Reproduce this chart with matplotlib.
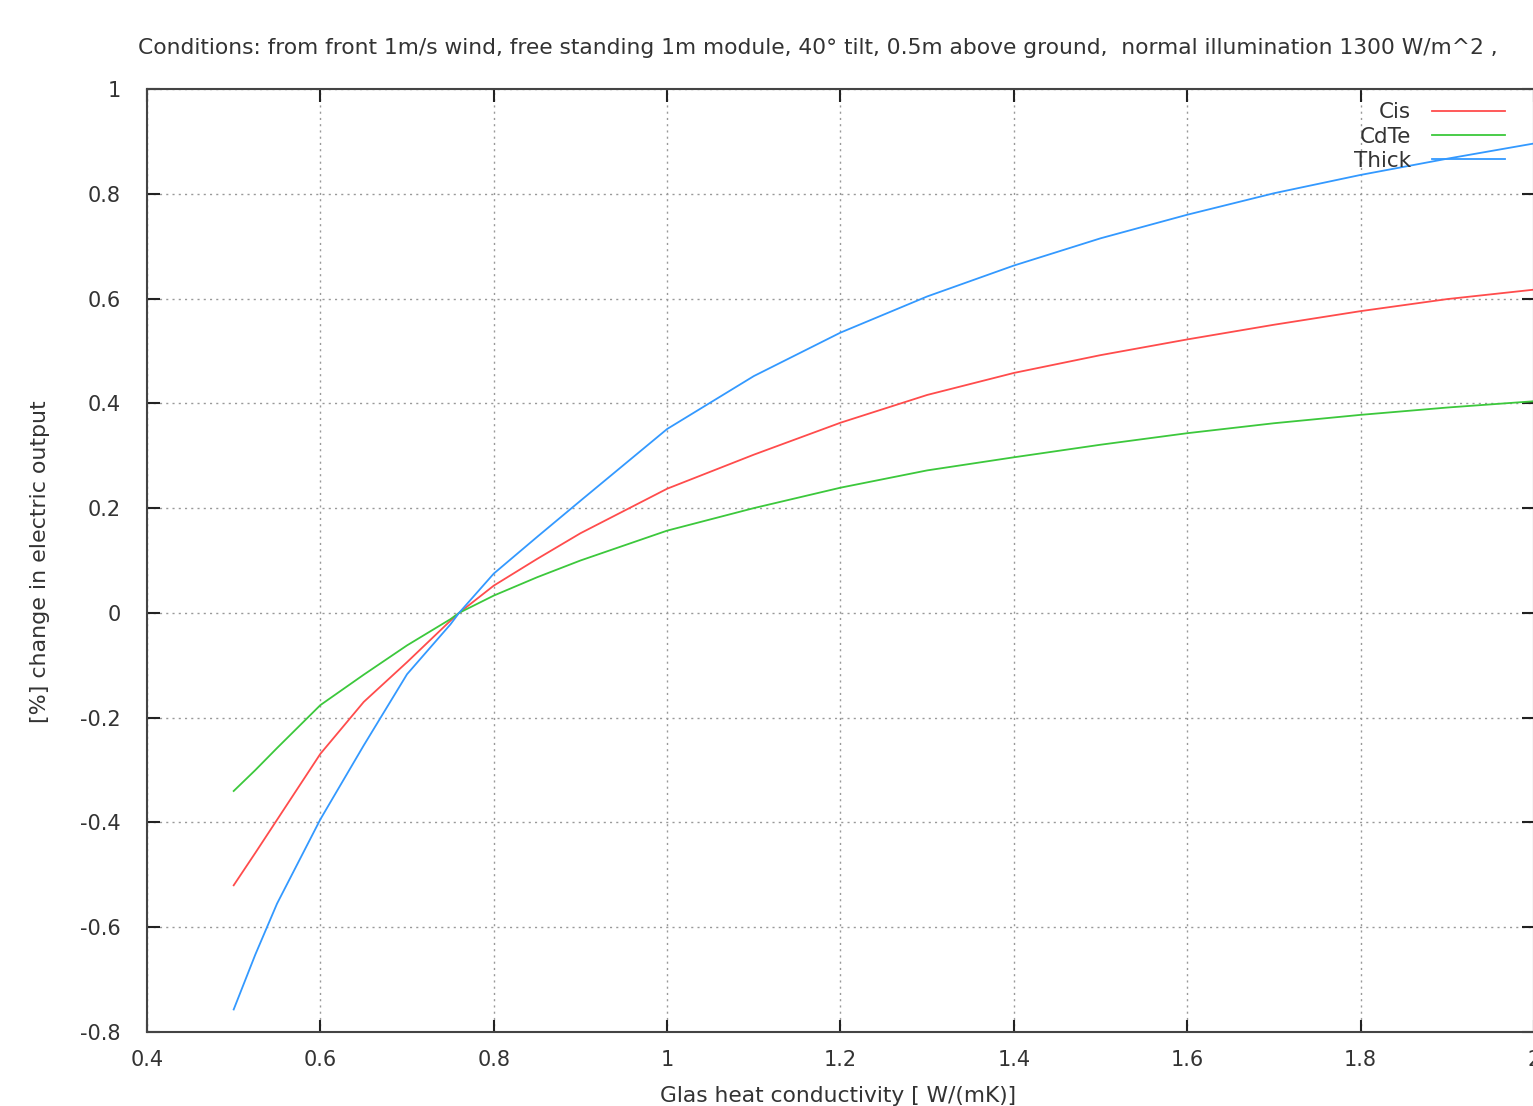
import numpy as np
import matplotlib
matplotlib.use("Agg")
import matplotlib.pyplot as plt

# glass heat conductivity W/(mK)
k = [0.5, 0.525, 0.55, 0.6, 0.65, 0.7, 0.75, 0.76, 0.8, 0.85, 0.9, 1.0, 1.1, 1.2, 1.3, 1.4, 1.5,
     1.6, 1.7, 1.8, 1.9, 2.0]

cis = [-0.52, -0.458, -0.395, -0.269, -0.17, -0.094, -0.015, 0.0, 0.052, 0.103, 0.152, 0.237,
       0.302, 0.363, 0.416, 0.458, 0.492, 0.522, 0.55, 0.576, 0.599, 0.617]
cdte = [-0.34, -0.3, -0.258, -0.176, -0.118, -0.062, -0.012, 0.0, 0.033, 0.068, 0.1, 0.157,
        0.2, 0.239, 0.272, 0.297, 0.321, 0.343, 0.362, 0.378, 0.392, 0.404]
thick = [-0.757, -0.652, -0.555, -0.394, -0.253, -0.117, -0.022, 0.0, 0.075, 0.145, 0.214, 0.351,
         0.452, 0.535, 0.604, 0.663, 0.715, 0.76, 0.801, 0.836, 0.867, 0.896]

labels = ["Cis", "CdTe", "Thick"]
title = ("Conditions: from front 1m/s wind, free standing 1m module, 40\u00b0 tilt, 0.5m above ground,  "
         "normal illumination 1300 W/m^2 ,")

txt = "#333333"
plt.rcParams["font.family"] = "DejaVu Sans"
fig = plt.figure(figsize=(15.33, 11.06), dpi=100)
ax = fig.add_axes([147/1533, 1 - 1032/1106, 1387/1533, 943/1106])

ax.plot(k, cis, color="#ff4c4c", lw=1.3, label=labels[0])
ax.plot(k, cdte, color="#3cc83c", lw=1.3, label=labels[1])
ax.plot(k, thick, color="#3399ff", lw=1.3, label=labels[2])

ax.set_xlim(0.4, 2.0)
ax.set_ylim(-0.8, 1.0)
ax.set_xticks(np.arange(0.4, 2.01, 0.2))
ax.set_yticks(np.arange(-0.8, 1.01, 0.2))
ax.set_xticklabels(["0.4", "0.6", "0.8", "1", "1.2", "1.4", "1.6", "1.8", "2"])
ax.set_yticklabels(["-0.8", "-0.6", "-0.4", "-0.2", "0", "0.2", "0.4", "0.6", "0.8", "1"])
ax.grid(True, color="#999999", ls=(0, (1.5, 3)), lw=1)
ax.tick_params(direction="in", length=9, width=1.5, top=True, right=True,
               labelsize=15, colors="#222222", labelcolor=txt)
ax.tick_params(axis="y", pad=19)
ax.tick_params(axis="x", pad=13)
for s in ax.spines.values():
    s.set_color("#444444")
    s.set_linewidth(1.5)

ax.legend(loc="upper right", bbox_to_anchor=(0.979, 0.986), frameon=False, markerfirst=False,
          fontsize=15.5, handlelength=3.4, handletextpad=0.95, labelspacing=0.2,
          borderpad=0, borderaxespad=0, labelcolor=txt)

fig.text(138/1533, 1 - 48/1106, title, ha="left", va="center", fontsize=15.7, color=txt)
fig.text(40/1533, 1 - 562/1106, "[%] change in electric output", rotation=90,
         ha="center", va="center", fontsize=15.9, color=txt)
fig.text(838/1533, 1 - 1096/1106, "Glas heat conductivity [ W/(mK)]", ha="center", va="center",
         fontsize=15.7, color=txt)

fig.savefig("out.png", dpi=100)
